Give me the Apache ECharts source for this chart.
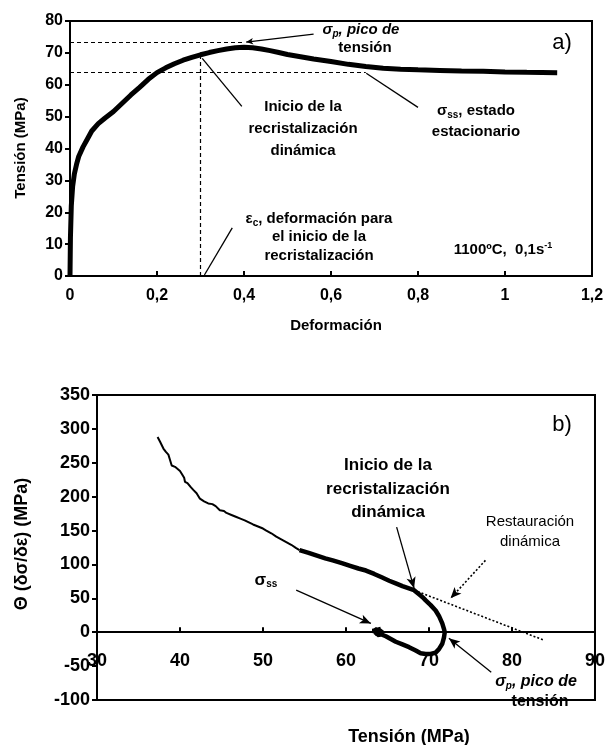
<!DOCTYPE html>
<html lang="es">
<head>
  <meta charset="UTF-8">
  <title>Curva de fluencia y tasa de endurecimiento</title>
  <style>
    html, body { margin: 0; padding: 0; background: #fff; }
    #chart { width: 608px; height: 745px; }
  </style>
  <script src="https://cdn.jsdelivr.net/npm/echarts@6/dist/echarts.min.js"></script>
</head>
<body>
  <div id="chart"></div>
  <script>
    // a) curva tension-deformacion, 1100ºC, 0,1 s-1
    var strain = [0, 0.001, 0.003, 0.006, 0.01, 0.015, 0.02, 0.03, 0.04, 0.05, 0.065, 0.08, 0.1,
      0.12, 0.14, 0.16, 0.18, 0.2, 0.22, 0.24, 0.26, 0.28, 0.3, 0.32, 0.34, 0.36, 0.38, 0.4,
      0.42, 0.44, 0.46, 0.48, 0.5, 0.53, 0.56, 0.6, 0.64, 0.68, 0.72, 0.76, 0.8, 0.85, 0.9,
      0.95, 1.0, 1.05, 1.12];
    var stress = [0, 12, 22, 28, 32, 35, 37.5, 40.5, 43, 45.5, 47.8, 49.5, 51.6,
      54.2, 56.8, 59.2, 61.7, 63.8, 65.3, 66.6, 67.7, 68.6, 69.4, 70.1, 70.7, 71.2, 71.6, 71.8,
      71.6, 71.2, 70.7, 70.1, 69.5, 68.8, 68.1, 67.3, 66.4, 65.7, 65.2, 64.9, 64.7, 64.5, 64.3,
      64.2, 64.0, 63.9, 63.8];

    // b) Theta frente a tension: tramo inicial (fino)
    var sigmaA = [37.3, 37.6, 38.0, 38.3, 38.6, 38.8, 39.0, 39.4, 40.0, 40.3, 40.5, 40.6, 40.9,
      41.3, 41.6, 42.0, 42.4, 42.9, 43.4, 43.9, 44.3, 44.8, 45.3, 45.6, 46.2, 46.8, 47.2, 47.8,
      48.3, 48.8, 49.4, 50.0, 50.4, 51.0, 51.6, 52.2, 52.8, 53.4, 54.0, 54.4];
    var thetaA = [288, 281, 271, 266, 262, 254, 246, 244, 238, 232, 228, 222, 220,
      214, 210, 205, 197, 193, 190, 189, 186, 180, 179, 176, 173, 170, 168, 165,
      162, 159, 156, 153, 150, 146, 141, 137, 133, 129, 124, 121];
    // tramo final (grueso) con el lazo hasta el estado estacionario
    var sigmaB = [54.4, 55.5, 56.5, 57.5, 58.4, 59.5, 60.5, 61.5, 62.4, 63.4, 64.3, 65.2, 66.0,
      66.8, 67.5, 68.2, 68.8, 69.3, 69.6, 70.2, 70.8, 71.2, 71.6, 71.8, 71.9, 71.8, 71.6, 71.2,
      70.8, 70.2, 69.6, 69.0, 68.4, 67.6, 66.8, 66.0, 65.4, 64.8, 64.2, 63.6, 63.4, 63.8, 64.4,
      64.0, 63.5, 64.6, 63.2, 64.2];
    var thetaB = [121, 117, 113, 109, 106, 102, 98, 94, 91, 86, 81, 76, 72,
      68, 65, 62, 56, 51, 47, 40, 32, 24, 13, 5, 0, -8, -17, -25,
      -30, -32, -32, -31, -27, -22, -18, -14, -10, -6, -3, 2, 6, -4, 3,
      -5, 0, -2, 2, 5];

    var topXTicks = { min: 0, max: 1.2, step: 0.2 };
    var topYTicks = { min: 0, max: 80, step: 10 };
    var botXTicks = { min: 30, max: 90, step: 10 };
    var botYTicks = { min: -100, max: 350, step: 50 };

    function zip(a, b) {
      return a.map(function (v, i) { return [v, b[i]]; });
    }

    var FONT = '"Liberation Sans", Arial, sans-serif';

    function seg(p1, p2, style, arrow) {
      return [
        { coord: p1, symbol: 'none', lineStyle: style },
        { coord: p2, symbol: arrow ? 'arrow' : 'none', symbolSize: arrow || 0 }
      ];
    }
    var solid = { color: '#000', width: 1.3, type: 'solid' };
    var dashed = { color: '#000', width: 1.2, type: [4, 3] };
    var dotted = { color: '#000', width: 1.6, type: [2, 2] };
    var bigHead = [7, 11], smallHead = [5, 7];

    function valueAxis(idx, t, tickInside, labelSize, margin, extra) {
      var ax = {
        type: 'value',
        gridIndex: idx,
        min: t.min,
        max: t.max,
        interval: t.step,
        splitLine: { show: false },
        axisLine: { show: true, onZero: false, lineStyle: { color: '#000', width: 2 } },
        axisTick: { show: true, inside: tickInside, length: 5, lineStyle: { color: '#000', width: 2 } },
        axisLabel: {
          color: '#000', fontFamily: FONT, fontWeight: 'bold', fontSize: labelSize, margin: margin,
          formatter: function (v) { return String(v).replace('.', ','); }
        }
      };
      return Object.assign(ax, extra || {});
    }

    var richSub = {
      s: { fontFamily: FONT, fontWeight: 'bold', fontSize: 10, padding: [8, 0, 0, 0] },
      si: { fontFamily: FONT, fontWeight: 'bold', fontStyle: 'italic', fontSize: 10, padding: [8, 0, 0, 0] },
      sup: { fontFamily: FONT, fontWeight: 'bold', fontSize: 9, padding: [0, 0, 8, 0] }
    };

    function label(x, y, text, size, opts) {
      opts = opts || {};
      return {
        type: 'text',
        x: x, y: y,
        style: {
          text: text,
          fill: '#000',
          font: (opts.italic ? 'italic ' : '') + (opts.normal ? 'normal ' : 'bold ') + size + 'px ' + FONT,
          textAlign: opts.align || 'center',
          textVerticalAlign: 'middle',
          lineHeight: opts.lh || Math.round(size * 1.3),
          rich: opts.rich
        }
      };
    }

    var myChart = echarts.init(document.getElementById('chart'));

    // el eje x de b) cruza en Theta = 0
    var botTop = 395, botHeight = 305;
    var zeroOffset = -botHeight * (0 - botYTicks.min) / (botYTicks.max - botYTicks.min);

    var option = {
      animation: false,
      backgroundColor: '#fff',
      grid: [
        { left: 70, top: 21, width: 522, height: 255, show: true, borderColor: '#000', borderWidth: 2 },
        { left: 97, top: botTop, width: 499, height: botHeight, show: true, borderColor: '#000', borderWidth: 2 }
      ],
      xAxis: [
        valueAxis(0, topXTicks, true, 16, 12),
        valueAxis(1, botXTicks, true, 18, 20, { offset: zeroOffset })
      ],
      yAxis: [
        valueAxis(0, topYTicks, false, 16, 7),
        valueAxis(1, botYTicks, false, 18, 7)
      ],
      series: [
        {
          type: 'line',
          xAxisIndex: 0, yAxisIndex: 0,
          data: zip(strain, stress),
          showSymbol: false,
          lineStyle: { color: '#000', width: 5 },
          markLine: {
            silent: true,
            label: { show: false },
            data: [
              seg([0, 73.3], [0.4, 73.3], dashed),
              seg([0, 64], [0.68, 64], dashed),
              seg([0.3, 0], [0.3, 69.2], dashed),
              seg([0.56, 75.9], [0.405, 73.4], solid, smallHead),
              seg([0.395, 53.2], [0.304, 68.3], solid),
              seg([0.8, 52.9], [0.681, 63.6], solid),
              seg([0.373, 15.1], [0.309, 0.3], solid)
            ]
          }
        },
        {
          type: 'line',
          xAxisIndex: 1, yAxisIndex: 1,
          data: zip(sigmaA, thetaA),
          showSymbol: false,
          lineStyle: { color: '#000', width: 2 }
        },
        {
          type: 'line',
          xAxisIndex: 1, yAxisIndex: 1,
          data: zip(sigmaB, thetaB),
          showSymbol: false,
          lineStyle: { color: '#000', width: 4.5 },
          markLine: {
            silent: true,
            label: { show: false },
            data: [
              seg([68.2, 62], [83.9, -12], dotted),
              seg([76.8, 106], [72.6, 50], dotted, bigHead),
              seg([66.1, 155], [68.2, 65], solid, bigHead),
              seg([54.0, 62], [63.0, 13], solid, bigHead),
              seg([77.5, -59], [72.4, -9], solid, bigHead)
            ]
          }
        }
      ],
      graphic: [
        // titulos de ejes
        { type: 'text', x: 21, y: 148, rotation: Math.PI / 2,
          style: { text: 'Tensión (MPa)', fill: '#000', font: 'bold 15px ' + FONT, textAlign: 'center', textVerticalAlign: 'middle' } },
        label(336, 326, 'Deformación', 15),
        { type: 'text', x: 22, y: 544, rotation: Math.PI / 2,
          style: { text: 'Θ (δσ/δε) (MPa)', fill: '#000', font: 'bold 18px ' + FONT, textAlign: 'center', textVerticalAlign: 'middle' } },
        label(409, 737, 'Tensión (MPa)', 18),

        // anotaciones a)
        label(562, 43, 'a)', 22, { normal: true }),
        label(361, 30, 'σ{si|p}, pico de', 15, { italic: true, rich: richSub }),
        label(365, 48, 'tensión', 15),
        label(303, 129, 'Inicio de la\nrecristalización\ndinámica', 15, { lh: 22 }),
        label(476, 111, 'σ{s|ss}, estado', 15, { rich: richSub }),
        label(476, 132, 'estacionario', 15),
        label(319, 219, 'ε{s|c}, deformación para', 15, { rich: richSub }),
        label(319, 237, 'el inicio de la', 15),
        label(319, 256, 'recristalización', 15),
        label(503, 250, '1100ºC,  0,1s{sup|-1}', 15, { rich: richSub }),

        // anotaciones b)
        label(562, 425, 'b)', 22, { normal: true }),
        label(388, 489, 'Inicio de la\nrecristalización\ndinámica', 17, { lh: 23.5 }),
        label(530, 532, 'Restauración\ndinámica', 15, { normal: true, lh: 20 }),
        label(266, 580, 'σ{s|ss}', 17, { rich: richSub }),
        label(536, 682, 'σ{si|p}, pico de', 16, { italic: true, rich: richSub }),
        label(540, 702, 'tensión', 16)
      ]
    };

    myChart.setOption(option);
  </script>
</body>
</html>
